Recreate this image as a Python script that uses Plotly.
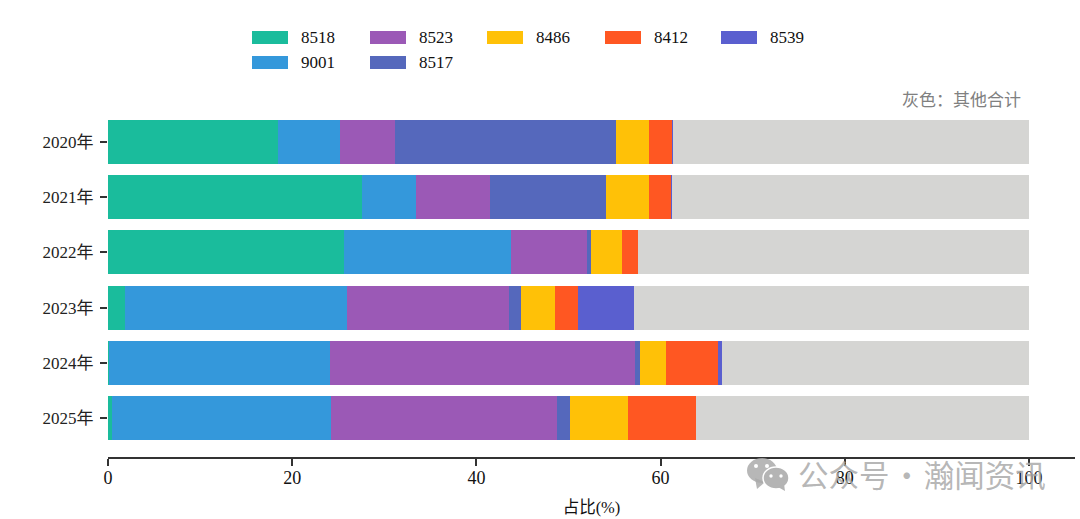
import plotly.graph_objects as go

years = ["2020年", "2021年", "2022年", "2023年", "2024年", "2025年"]

s8518 = [18.5, 27.54, 25.66, 1.85, 0.1, 0.4]
s9001 = [6.65, 5.86, 18.14, 24.1, 23.97, 23.8]
s8523 = [6.01, 8.04, 8.25, 17.59, 33.13, 24.55]
s8517 = [24.0, 12.6, 0.39, 1.26, 0.6, 1.45]
s8486 = [3.6, 4.67, 3.36, 3.73, 2.8, 6.3]
s8412 = [2.53, 2.43, 1.7, 2.47, 5.6, 7.3]
s8539 = [0.05, 0.05, 0.0, 6.1, 0.47, 0.0]
other = [38.65, 38.8, 42.5, 42.9, 33.33, 36.2]

names = ["8518", "9001", "8523", "8517", "8486", "8412", "8539"]
values = [s8518, s9001, s8523, s8517, s8486, s8412, s8539]
colors = ["#1ABC9C", "#3498DB", "#9B59B6", "#5568BC", "#FFC107", "#FF5722", "#5A5FCF"]
gray = "#D5D5D3"

xticks = [0, 20, 40, 60, 80, 100]

W, H = 1080, 519
L, R, T, B = 108, 1075, 103, 457
SERIF = "Liberation Serif, Noto Sans CJK SC"


def px_x(x):
    return (x - L) / (R - L)


def px_y(y):
    return (B - y) / (B - T)


fig = go.Figure()
for name, vals, color in zip(names, values, colors):
    fig.add_trace(go.Bar(y=years, x=vals, name=name, orientation="h", width=0.8,
                         marker=dict(color=color, line_width=0), showlegend=False))
fig.add_trace(go.Bar(y=years, x=other, name="其他合计", orientation="h", width=0.8,
                     marker=dict(color=gray, line_width=0), showlegend=False))

shapes = []
annotations = []

# legend is drawn by hand: wide swatches, filled column by column
legend_cols = [252, 370, 487, 605, 721]
legend_rows = [37.5, 62.5]
for i, (name, color) in enumerate(zip(names, colors)):
    if i < 4:
        cx, cy = legend_cols[i // 2], legend_rows[i % 2]
    else:
        cx, cy = legend_cols[i - 2], legend_rows[0]
    shapes.append(dict(type="rect", xref="paper", yref="paper", line_width=0, fillcolor=color,
                       x0=px_x(cx), x1=px_x(cx + 36), y0=px_y(cy - 6.5), y1=px_y(cy + 6.5)))
    annotations.append(dict(text=name, xref="paper", yref="paper", showarrow=False,
                            x=px_x(cx + 47), y=px_y(cy), xanchor="left", yanchor="middle",
                            font=dict(family=SERIF, size=17, color="#111111")))

annotations.append(dict(text="灰色：其他合计", xref="paper", yref="paper", showarrow=False,
                        x=px_x(1023), y=px_y(100), xanchor="right", yanchor="middle",
                        font=dict(family=SERIF, size=17, color="#808080")))

# watermark
mark = "rgba(170,170,170,0.85)"
shapes.append(dict(type="path", xref="paper", yref="paper", line_width=0, fillcolor=mark,
                   path=f"M {px_x(755)} {px_y(478)} L {px_x(757)} {px_y(489)} L {px_x(765)} {px_y(482)} Z"))
shapes.append(dict(type="circle", xref="paper", yref="paper", line_width=0, fillcolor=mark,
                   x0=px_x(747), x1=px_x(777), y0=px_y(483), y1=px_y(458)))
shapes.append(dict(type="circle", xref="paper", yref="paper", line=dict(color="white", width=1.5),
                   fillcolor="#B4B4B4", x0=px_x(763), x1=px_x(789), y0=px_y(489), y1=px_y(467)))
shapes.append(dict(type="path", xref="paper", yref="paper", line_width=0, fillcolor="#B4B4B4",
                   path=f"M {px_x(778)} {px_y(487)} L {px_x(785)} {px_y(491)} L {px_x(784)} {px_y(484)} Z"))
for ex, ey, er in [(756, 466, 2), (767, 466, 2), (771, 476, 1.7), (781, 476, 1.7)]:
    shapes.append(dict(type="circle", xref="paper", yref="paper", line_width=0, fillcolor="white",
                       x0=px_x(ex - er), x1=px_x(ex + er), y0=px_y(ey + er), y1=px_y(ey - er)))
annotations.append(dict(text="公众号\u200a·\u200a瀚闻资讯", xref="paper", yref="paper", showarrow=False,
                        x=px_x(795.5), y=px_y(474), xanchor="left", yanchor="middle",
                        font=dict(family="Noto Sans CJK SC", size=30.5, color=mark)))

fig.update_layout(
    width=W, height=H,
    barmode="stack",
    bargap=0.2,
    template="plotly_white",
    paper_bgcolor="white",
    plot_bgcolor="white",
    margin=dict(l=L, r=W - R, t=T, b=H - B, pad=0),
    font=dict(family=SERIF, color="#111111"),
    shapes=shapes,
    annotations=annotations,
)
fig.update_xaxes(range=[0, 105], tickvals=xticks, ticks="outside", ticklen=7, tickwidth=1.5,
                 tickcolor="#333333", showline=True, linecolor="#333333", linewidth=2,
                 ticklabelstandoff=-4,
                 showgrid=False, zeroline=False, tickfont=dict(family=SERIF, size=18, color="#111111"),
                 title=dict(text="占比(%)", font=dict(family=SERIF, size=16.5, color="#111111"), standoff=15))
fig.update_yaxes(range=[5.706, -0.706], type="category", categoryorder="array", categoryarray=years,
                 ticks="outside", ticklen=7, tickwidth=1.5, tickcolor="#333333",
                 ticklabelstandoff=3,
                 showline=False, showgrid=False, zeroline=False,
                 tickfont=dict(family=SERIF, size=17, color="#222222"))

# drop the browser's default body margin so the figure fills the window
fig.write_html("out.html", config={"displayModeBar": False},
               post_script="document.body.style.margin = '0';")
